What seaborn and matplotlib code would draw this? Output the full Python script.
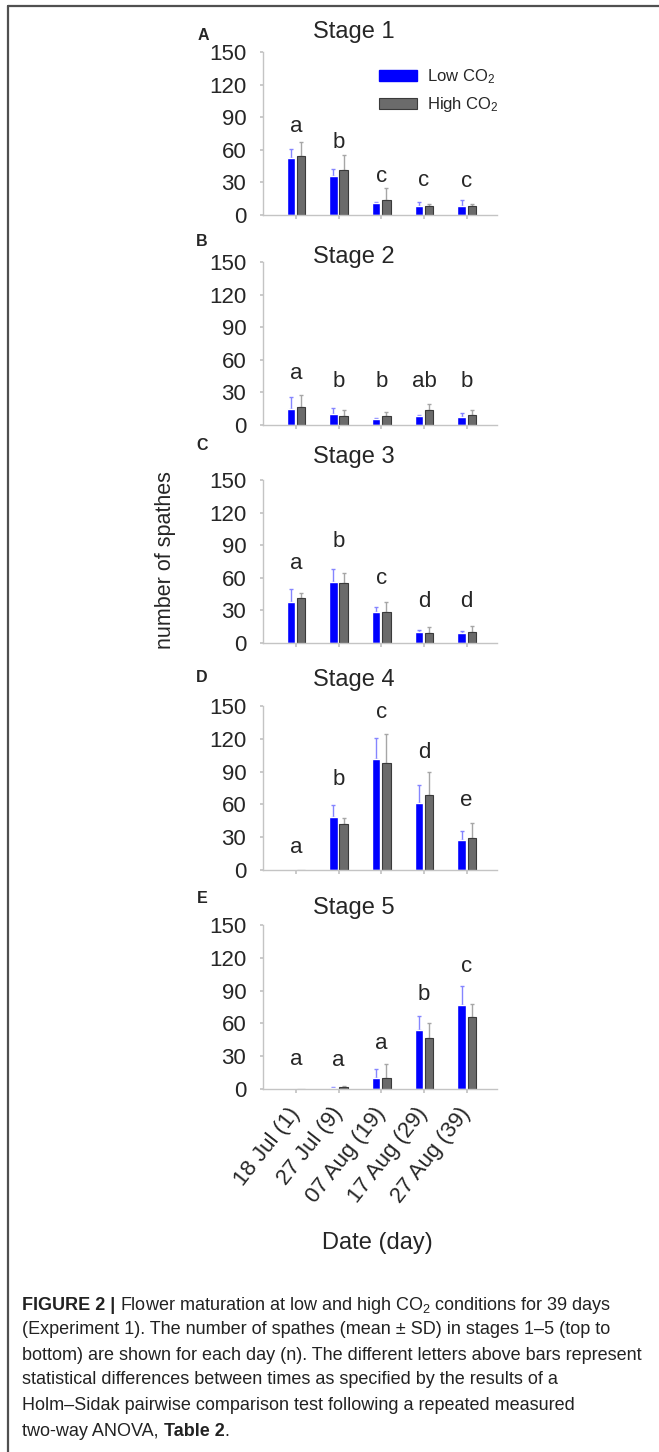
import numpy as np
import pandas as pd
import matplotlib
matplotlib.use('Agg')
import matplotlib.pyplot as plt
import seaborn as sns
from matplotlib.patches import Patch
from matplotlib.lines import Line2D

W, H = 659, 1452

# data
dates = ['18 Jul (1)', '27 Jul (9)', '07 Aug (19)', '17 Aug (29)', '27 Aug (39)']
treatments = ['Low CO$_2$', 'High CO$_2$']
stage_names = ['Stage 1', 'Stage 2', 'Stage 3', 'Stage 4', 'Stage 5']
panel_tags = ['A', 'B', 'C', 'D', 'E']

low_mean = [
    [52, 36, 11, 8.5, 8.5],
    [14.4, 9.8, 5.2, 8.3, 7],
    [37.4, 55.8, 28.2, 10.4, 8.9],
    [0, 48.5, 101.4, 61.4, 27],
    [0, 1, 10, 53.7, 76.8],
]
low_sd = [
    [9, 6, 1, 3.5, 5.5],
    [11.6, 6.2, 1, 1.2, 3.7],
    [12, 12.2, 5.2, 2, 2],
    [0, 10.7, 19.4, 16, 8.5],
    [0, 0.5, 8.6, 13.3, 17.1],
]
high_mean = [
    [54, 41, 14, 8, 8],
    [16.8, 8.3, 8.6, 13.8, 8.9],
    [41.7, 54.9, 28.2, 8.9, 10.4],
    [0, 42.3, 98.3, 68.5, 29.4],
    [0, 1.5, 9.8, 46.6, 65.5],
]
high_sd = [
    [13, 14, 11, 2, 2],
    [11.2, 5.5, 3.6, 5.2, 4.9],
    [4.6, 9.1, 9.8, 6, 5],
    [0, 5.5, 26.5, 21.2, 13.8],
    [0, 1, 13.1, 13.8, 12.5],
]
letters = [
    ['a', 'b', 'c', 'c', 'c'],
    ['a', 'b', 'b', 'ab', 'b'],
    ['a', 'b', 'c', 'd', 'd'],
    ['a', 'b', 'c', 'd', 'e'],
    ['a', 'a', 'a', 'b', 'c'],
]
letter_y = [
    [81, 67, 35, 32, 31],
    [47.5, 40, 40, 40, 40],
    [73, 93, 59.5, 38, 38],
    [21, 83, 144, 107.5, 64],
    [27, 26, 41.5, 86, 112],
]

caption = [
    [('FIGURE 2 |', 'bold'), (' Flower maturation at low and high CO$_2$ conditions for 39 days', 'normal')],
    [('(Experiment 1). The number of spathes (mean \u00b1 SD) in stages 1\u20135 (top to', 'normal')],
    [('bottom) are shown for each day (n). The different letters above bars represent', 'normal')],
    [('statistical differences between times as specified by the results of a', 'normal')],
    [('Holm\u2013Sidak pairwise comparison test following a repeated measured', 'normal')],
    [('two-way ANOVA, ', 'normal'), ('Table 2', 'bold'), ('.', 'normal')],
]

# layout in pixels
panel_px = [(52, 215), (262, 425), (480, 643), (706, 870), (925, 1089)]
title_px = [(354, 32), (354, 257), (354, 457), (354, 680), (354, 908)]
tag_px = [(203, 35), (202, 242), (202, 445), (202, 678), (202, 899)]

sns.set_theme(style='white')
plt.rcParams['font.family'] = ['Liberation Sans', 'DejaVu Sans']
plt.rcParams['mathtext.fontset'] = 'custom'
plt.rcParams['mathtext.rm'] = 'Liberation Sans'
plt.rcParams['mathtext.it'] = 'Liberation Sans:italic'
plt.rcParams['mathtext.bf'] = 'Liberation Sans:bold'

palette = {treatments[0]: '#0000ff', treatments[1]: '#6b6b6b'}
err_colors = ['#8585ff', '#a6a6a6']
spine_col = '#c4c4c4'


def fx(x):
    return x / W


def fy(y):
    return 1 - y / H


fig = plt.figure(figsize=(W / 100, H / 100), dpi=100)

for i in range(5):
    top, bot = panel_px[i]
    ax = fig.add_axes([fx(263), fy(bot), 234 / W, (bot - top) / H])
    df = pd.DataFrame({
        'date': dates * 2,
        'treatment': [treatments[0]] * 5 + [treatments[1]] * 5,
        'spathes': low_mean[i] + high_mean[i],
    })
    sns.barplot(data=df, x='date', y='spathes', hue='treatment', hue_order=treatments,
                palette=palette, saturation=1, width=0.48, gap=0.17,
                errorbar=None, legend=False, ax=ax)

    for bar in ax.containers[1]:
        bar.set_edgecolor('#3a3a3a')
        bar.set_linewidth(0.8)

    for cont, sd, col in zip(ax.containers, [low_sd[i], high_sd[i]], err_colors):
        xs = np.array([b.get_x() + b.get_width() / 2 for b in cont])
        ys = np.array([b.get_height() for b in cont])
        sd = np.array(sd)
        keep = sd > 0
        ax.errorbar(xs[keep], ys[keep], yerr=[np.zeros(keep.sum()), sd[keep]], fmt='none',
                    ecolor=col, elinewidth=1, capsize=1.5, capthick=1, zorder=0.5)

    for j in range(5):
        ax.text(j, letter_y[i][j], letters[i][j], ha='center', va='center', fontsize=16)

    ax.set_ylim(0, 150)
    ax.set_yticks([0, 30, 60, 90, 120, 150])
    ax.set_xlim(-0.77, 4.71)
    ax.set_xlabel('')
    ax.set_ylabel('')
    sns.despine(ax=ax)
    for s in ['left', 'bottom']:
        ax.spines[s].set_color(spine_col)
        ax.spines[s].set_linewidth(1)
    ax.tick_params(axis='y', length=2, color=spine_col, labelsize=16, pad=10, left=True)
    ax.tick_params(axis='x', length=3, color=spine_col, direction='out', bottom=True)
    if i < 4:
        ax.tick_params(axis='x', labelbottom=False)
    else:
        ax.tick_params(axis='x', labelsize=16, pad=12)
        for lab in ax.get_xticklabels():
            lab.set_rotation(52)
            lab.set_ha('right')
            lab.set_va('center')
            lab.set_rotation_mode('anchor')

    fig.text(fx(title_px[i][0]), fy(title_px[i][1]), stage_names[i], ha='center', va='center', fontsize=17)
    fig.text(fx(tag_px[i][0]), fy(tag_px[i][1]), panel_tags[i], ha='center', va='center',
             fontsize=11.5, fontweight='bold')

    if i == 0:
        handles = [Patch(facecolor=palette[treatments[0]], edgecolor=palette[treatments[0]]),
                   Patch(facecolor=palette[treatments[1]], edgecolor='#3a3a3a', linewidth=0.8)]
        ax.legend(handles, treatments, loc='upper left', bbox_to_anchor=(0.496, 0.905),
                  frameon=False, fontsize=12, handlelength=2.3, handleheight=0.7,
                  handletextpad=0.55, labelspacing=0.55, borderpad=0, borderaxespad=0)

fig.text(fx(377), fy(1243), 'Date (day)', ha='center', va='center', fontsize=17)
fig.text(fx(165), fy(560), 'number of spathes', ha='center', va='center', rotation=90, fontsize=15.5)

# frame (left and top edges)
fig.add_artist(Line2D([fx(8), fx(8)], [0, fy(6)], transform=fig.transFigure, color='#505050', lw=1.6))
fig.add_artist(Line2D([fx(8), 1], [fy(6), fy(6)], transform=fig.transFigure, color='#505050', lw=1.6))

# caption
renderer = fig.canvas.get_renderer()
cap_family = ['Liberation Sans Narrow', 'Liberation Sans']
probe = fig.text(0, 0, caption[2][0][0], fontsize=13, family=cap_family)
probe_w = probe.get_window_extent(renderer).width
probe.remove()
cap_size = 13 * min(1.0, 624 / probe_w)

line_y = [1305, 1330, 1355, 1380, 1405, 1431]
for ly, segs in zip(line_y, caption):
    x = 22
    for txt, weight in segs:
        t = fig.text(fx(x), fy(ly), txt, ha='left', va='center', fontsize=cap_size,
                     fontweight=weight, family=cap_family, color='#222222')
        x += t.get_window_extent(renderer).width

fig.savefig('out.png', dpi=100)
